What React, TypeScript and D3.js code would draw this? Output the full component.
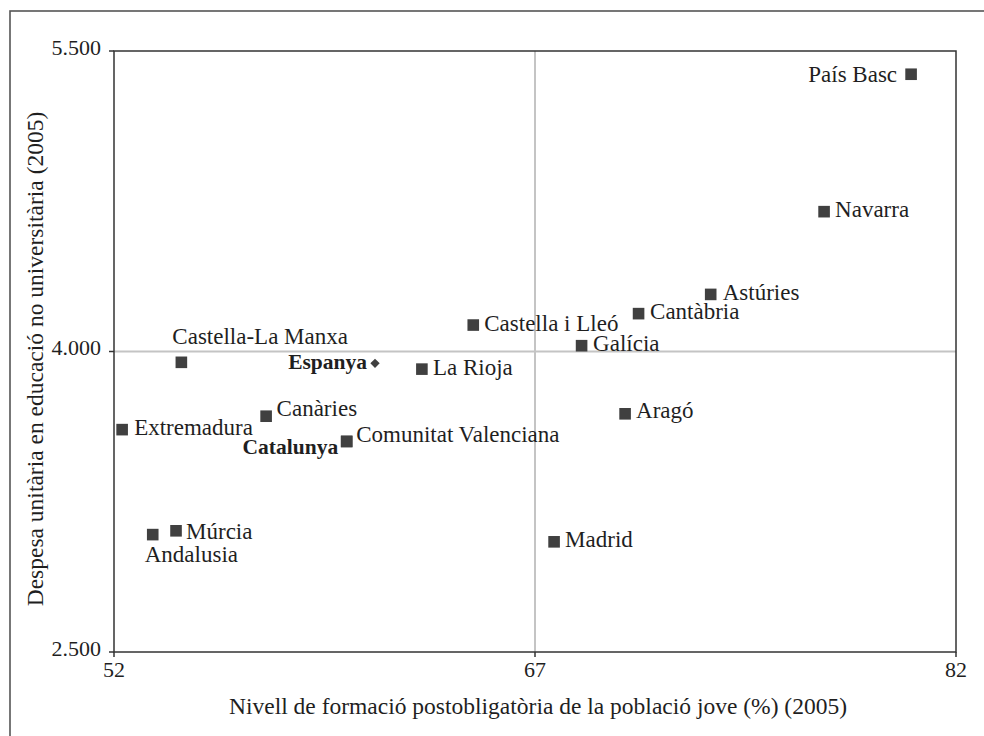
import React from "react";
import * as d3 from "d3";

const regions = [
  "País Basc", "Navarra", "Astúries", "Cantàbria", "Castella i Lleó", "Galícia",
  "La Rioja", "Espanya", "Castella-La Manxa", "Canàries", "Extremadura",
  "Catalunya", "Comunitat Valenciana", "Aragó", "Múrcia", "Andalusia", "Madrid",
];
const formacio = [80.4, 77.3, 73.26, 70.69, 64.8, 68.66, 62.97, 61.3, 54.4, 57.42, 52.29, 60.29, 60.29, 70.21, 54.21, 53.38, 67.68];
const despesa = [5384, 4698, 4285, 4189, 4132, 4029, 3912, 3941, 3946, 3677, 3610, 3551, 3551, 3689, 3105, 3086, 3050];

const xTicks = [52, 67, 82];
const yTicks = [2500, 4000, 5500];
const xRefValue = 67;
const yRefValue = 4000;

const xTitle = "Nivell de formació postobligatòria de la població jove (%) (2005)";
const yTitle = "Despesa unitària en educació no universitària (2005)";

// label placement (styling only): dx, dy relative to the marker, anchor, bold
const labelPlacement: Record<string, { dx: number; dy: number; anchor: string; bold?: boolean }> = {
  "País Basc": { dx: -14, dy: 7.5, anchor: "end" },
  "Navarra": { dx: 11, dy: 5, anchor: "start" },
  "Astúries": { dx: 12, dy: 5.5, anchor: "start" },
  "Cantàbria": { dx: 11.5, dy: 5.5, anchor: "start" },
  "Castella i Lleó": { dx: 11, dy: 5.5, anchor: "start" },
  "Galícia": { dx: 11.5, dy: 5.5, anchor: "start" },
  "La Rioja": { dx: 11, dy: 5.5, anchor: "start" },
  "Espanya": { dx: -8, dy: 5.5, anchor: "end", bold: true },
  "Castella-La Manxa": { dx: -9, dy: -18, anchor: "start" },
  "Canàries": { dx: 10.5, dy: 0, anchor: "start" },
  "Extremadura": { dx: 12, dy: 5, anchor: "start" },
  "Catalunya": { dx: -8.5, dy: 13, anchor: "end", bold: true },
  "Comunitat Valenciana": { dx: 9.5, dy: 1, anchor: "start" },
  "Aragó": { dx: 11, dy: 4, anchor: "start" },
  "Múrcia": { dx: 10, dy: 8.5, anchor: "start" },
  "Andalusia": { dx: -8, dy: 27, anchor: "start" },
  "Madrid": { dx: 11, dy: 5, anchor: "start" },
};

const W = 984;
const H = 736;
const M = { left: 114, right: 956, top: 51, bottom: 652 };
const FONT = "'Liberation Serif', 'Times New Roman', serif";
const TEXT = "#1f1f1f";
const MARK = "#404040";

export default function App() {
  const x = d3.scaleLinear().domain([52, 82]).range([M.left, M.right]);
  const y = d3.scaleLinear().domain([2500, 5500]).range([M.bottom, M.top]);
  const sq = 11.6;
  const dm = 6.6;
  return (
    <svg width={W} height={H} style={{ position: "absolute", left: 0, top: 0, background: "#fff" }}
      fontFamily={FONT}>
      <rect x={0} y={0} width={W} height={H} fill="#fff" />
      <rect x={10} y={11} width={W + 20} height={H + 20} fill="none" stroke="#555" strokeWidth={1.6} />
      {/* reference lines */}
      <line x1={x(xRefValue)} x2={x(xRefValue)} y1={M.top} y2={M.bottom} stroke="#c4c4c4" strokeWidth={2} />
      <line x1={M.left} x2={M.right} y1={y(yRefValue)} y2={y(yRefValue)} stroke="#c4c4c4" strokeWidth={2} />
      {/* plot frame */}
      <rect x={M.left} y={M.top} width={M.right - M.left} height={M.bottom - M.top} fill="none" stroke="#333" strokeWidth={1.5} />
      {/* y ticks */}
      {yTicks.map((t) => (
        <g key={"y" + t}>
          <line x1={M.left - 5} x2={M.left} y1={y(t)} y2={y(t)} stroke="#333" strokeWidth={1.5} />
          <text x={M.left - 13} y={y(t) + 3.5} textAnchor="end" fontSize={22} fill={TEXT}>
            {d3.format(",")(t).replace(",", ".")}
          </text>
        </g>
      ))}
      {/* x ticks */}
      {xTicks.map((t) => (
        <g key={"x" + t}>
          <line x1={x(t)} x2={x(t)} y1={M.bottom} y2={M.bottom + 5} stroke="#333" strokeWidth={1.5} />
          <text x={x(t)} y={M.bottom + 25} textAnchor="middle" fontSize={22} fill={TEXT}>{t}</text>
        </g>
      ))}
      {/* axis titles */}
      <text x={(M.left + M.right) / 2 + 3} y={714} textAnchor="middle" fontSize={23.5} fill={TEXT}>{xTitle}</text>
      <text transform={`translate(42.5, 359) rotate(-90)`} textAnchor="middle" fontSize={23.5} fill={TEXT}>{yTitle}</text>
      {/* points */}
      {regions.map((r, i) => {
        const px = x(formacio[i]);
        const py = y(despesa[i]);
        const lp = labelPlacement[r];
        return (
          <g key={r}>
            {r === "Espanya" ? (
              <rect x={-dm / 2} y={-dm / 2} width={dm} height={dm} fill={MARK}
                transform={`translate(${px},${py}) rotate(45)`} />
            ) : (
              <rect x={px - sq / 2} y={py - sq / 2} width={sq} height={sq} fill={MARK} />
            )}
            <text x={px + lp.dx} y={py + lp.dy} textAnchor={lp.anchor as any} fontSize={lp.bold ? 21.5 : 23}
              fontWeight={lp.bold ? "bold" : "normal"} fill={TEXT}>{r}</text>
          </g>
        );
      })}
    </svg>
  );
}
